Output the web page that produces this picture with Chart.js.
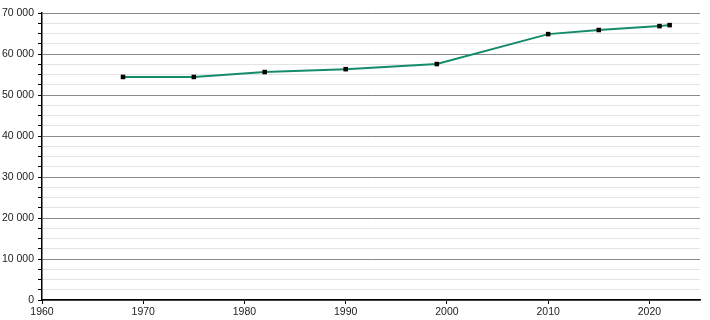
<!DOCTYPE html>
<html>
<head>
<meta charset="utf-8">
<script src="https://cdn.jsdelivr.net/npm/chart.js@4.4.1/dist/chart.umd.min.js"></script>
<style>
  html, body { margin: 0; padding: 0; background: #fff; }
  #wrap { width: 710px; height: 320px; }
</style>
</head>
<body>
<div id="wrap"><canvas id="myChart"></canvas></div>
<script>
// population data
const years = [1968, 1975, 1982, 1990, 1999, 2010, 2015, 2021, 2022];
const population = [54400, 54400, 55600, 56300, 57550, 64850, 65850, 66800, 67050];
const xTicks = [1960, 1970, 1980, 1990, 2000, 2010, 2020];
const yTicks = [0, 10000, 20000, 30000, 40000, 50000, 60000, 70000];

function fmt(v) {
    return String(v).replace(/\B(?=(\d{3})+(?!\d))/g, ' ');
}

const points = [];
for (let i = 0; i < years.length; i++) {
    points.push({ x: years[i], y: population[i] });
}

const data = {
    datasets: [{
        data: points,
        borderColor: 'rgb(20, 140, 108)',
        borderWidth: 2,
        backgroundColor: '#000',
        pointStyle: 'rect',
        pointRadius: 3.2,
        pointBorderWidth: 0,
        pointBackgroundColor: '#000',
        tension: 0,
    }]
};

const config = {
    type: 'line',
    data: data,
    options: {
        responsive: true,
        maintainAspectRatio: false,
        animation: false,
        layout: { padding: { top: 13, right: 10, left: 0, bottom: 0 } },
        plugins: {
            legend: { display: false },
            tooltip: { enabled: false }
        },
        scales: {
            x: {
                type: 'linear',
                min: 1960,
                max: 2025,
                afterBuildTicks: (axis) => {
                    axis.ticks = xTicks.map(v => ({ value: v }));
                },
                afterFit: (axis) => { axis.height = 20; },
                grid: {
                    display: true,
                    drawOnChartArea: false,
                    drawTicks: true,
                    tickLength: 4,
                    tickColor: '#000',
                },
                border: { color: '#000', width: 1.5 },
                ticks: {
                    color: '#222',
                    font: { family: 'Liberation Sans, Arial, sans-serif', size: 10.5 },
                    padding: 2,
                    maxRotation: 0,
                    callback: (v) => String(v),
                }
            },
            y: {
                min: 0,
                max: 70000,
                afterBuildTicks: (axis) => {
                    const t = [];
                    for (let v = 0; v <= 70000; v += 2500) t.push({ value: v });
                    axis.ticks = t;
                },
                afterFit: (axis) => { axis.width = 42; },
                grid: {
                    color: (ctx) => (ctx.tick && ctx.tick.value % 10000 === 0) ? '#8a8a8a' : '#e3e3e3',
                    lineWidth: 1,
                    tickColor: '#000',
                    tickLength: 4,
                },
                border: { color: '#000', width: 1.5 },
                ticks: {
                    color: '#222',
                    font: { family: 'Liberation Sans, Arial, sans-serif', size: 10.5 },
                    padding: 4,
                    autoSkip: false,
                    callback: (v) => (yTicks.indexOf(v) >= 0 ? fmt(v) : ''),
                }
            }
        }
    }
};

new Chart(document.getElementById('myChart'), config);
</script>
</body>
</html>
